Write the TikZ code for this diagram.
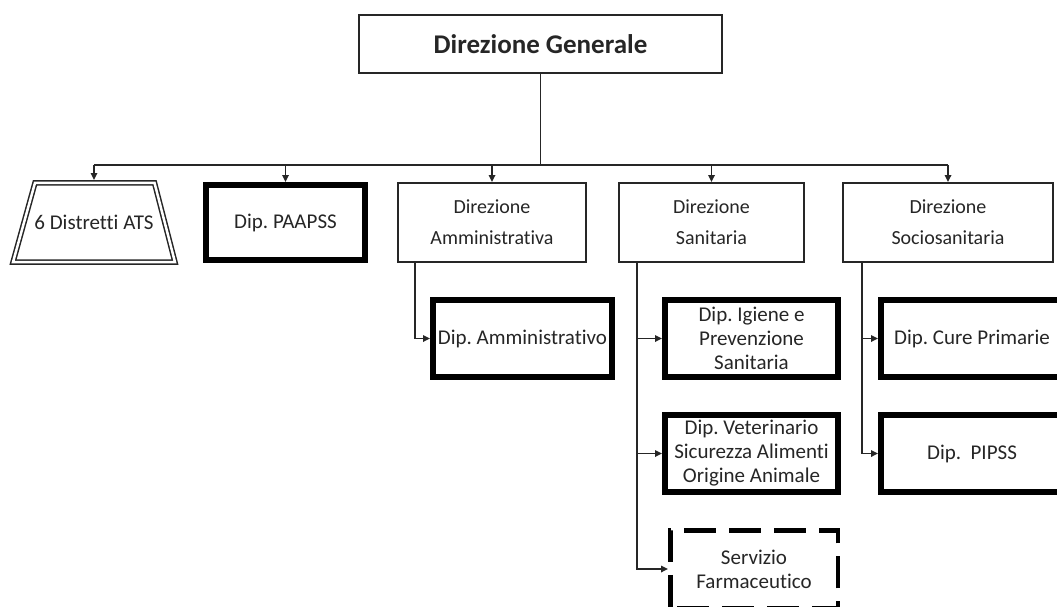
\documentclass[tikz,border=0pt]{standalone}
\usepackage{fontspec}
\setmainfont{Carlito}[Ligatures=NoCommon]
\usetikzlibrary{arrows.meta,calc}
\frenchspacing
\begin{document}
\begin{tikzpicture}[x=1pt,y=-1pt,
  basebox/.style={inner sep=0pt, align=center, text=black!85},
  genbox/.style={basebox, draw=black!85, line width=1.6pt, font=\fontsize{27}{32}\selectfont\bfseries},
  dirbox/.style={basebox, draw=black!85, line width=1.6pt, font=\fontsize{20}{31}\selectfont},
  dipbox/.style={basebox, draw=black, line width=6pt, font=\fontsize{21}{24}\selectfont},
  farmbox/.style={basebox, draw=black, line width=4.5pt, dash pattern=on 32pt off 13pt, dash phase=-7pt, font=\fontsize{21}{24}\selectfont},
  conn/.style={draw=black!85, line width=1.6pt},
  arr/.style={conn, -{Triangle[length=7pt,width=6.5pt]}},
  trapline/.style={draw=black!85, line width=1.5pt, double=white, double distance=2.5pt, line join=miter}
]
\fill[white] (0,0) rectangle (1057,606);
\clip (0,0) rectangle (1057,606);

% top
\node[genbox, minimum width=363.4pt, minimum height=58.4pt] (dg) at (540.5,44) {Direzione Generale};

% level 1
\node[basebox, minimum width=168pt, minimum height=85pt, outer sep=0pt, font=\fontsize{21}{24}\selectfont] (trap) at (94,222.5) {\raisebox{-2pt}{6 Distretti ATS}};
\draw[trapline] ($(trap.north west)+(25,2.8)$) -- ($(trap.north east)+(-23.5,2.8)$) -- ($(trap.south east)+(-3,-2.8)$) -- ($(trap.south west)+(3,-2.8)$) -- cycle;
\node[dipbox, minimum width=159pt, minimum height=75pt] (paapss) at (285.5,222.5) {Dip. PAAPSS};
\node[dirbox, minimum width=188.4pt, minimum height=79.4pt] (dirAmm) at (492,222.5) {Direzione\\Amministrativa};
\node[dirbox, minimum width=185.4pt, minimum height=79.4pt] (dirSan) at (711.5,222.5) {Direzione\\Sanitaria};
\node[dirbox, minimum width=210.4pt, minimum height=79.4pt] (dirSoc) at (948,222.5) {Direzione\\Sociosanitaria};

% level 2
\node[dipbox, minimum width=179pt, minimum height=77pt] (dipAmm) at (522.5,338.5) {Dip. Amministrativo};
\node[dipbox, minimum width=173pt, minimum height=77pt] (dipIg) at (751.5,338.5) {Dip. Igiene e\\Prevenzione\\Sanitaria};
\node[dipbox, minimum width=173pt, minimum height=77pt] (dipVet) at (751.5,453.5) {Dip. Veterinario\\Sicurezza Alimenti\\Origine Animale};
\node[farmbox, minimum width=167.5pt, minimum height=77.5pt] (farm) at (754,569) {Servizio\\Farmaceutico};
\node[dipbox, minimum width=182pt, minimum height=77pt] (cure) at (972,338.5) {Dip. Cure Primarie};
\node[dipbox, minimum width=182pt, minimum height=77pt] (pipss) at (972,453.5) {Dip.\ \ PIPSS};

% bus
\coordinate (busL) at (94,165);
\coordinate (busR) at (948,165);
\draw[conn] (dg.south) -- (dg.south |- busL);
\draw[conn] (busL) -- (busR);
\draw[arr] (busL) -- (trap.north);
\draw[arr] (paapss.north |- busL) -- (paapss.north);
\draw[arr] (dirAmm.north |- busL) -- (dirAmm.north);
\draw[arr] (dirSan.north |- busL) -- (dirSan.north);
\draw[arr] (busR) -- (dirSoc.north);

% side branches
\coordinate (amX) at ($(dirAmm.south west)+(18,0)$);
\coordinate (sanX) at ($(dirSan.south west)+(19,0)$);
\coordinate (socX) at ($(dirSoc.south west)+(20,0)$);
\draw[arr] (amX) |- (dipAmm.west);
\draw[arr] (sanX) |- (dipIg.west);
\draw[arr] (sanX) |- (dipVet.west);
\draw[arr] (sanX) |- (farm.west);
\draw[arr] (socX) |- (cure.west);
\draw[arr] (socX) |- (pipss.west);
\end{tikzpicture}
\end{document}
